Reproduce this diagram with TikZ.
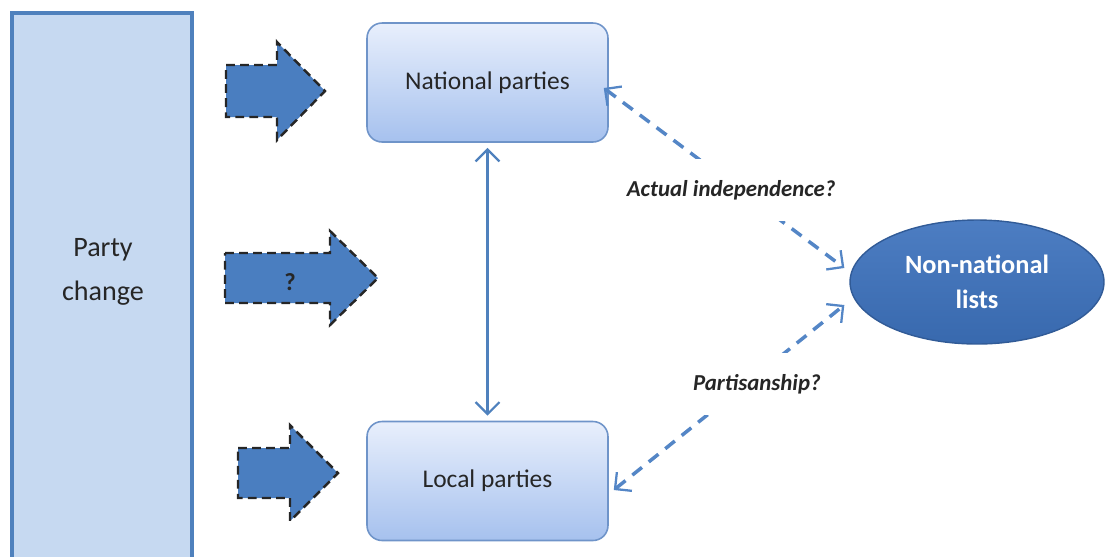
\documentclass[tikz,border=0pt]{standalone}
\usepackage{fontspec}
\setmainfont{Carlito}
\usetikzlibrary{arrows.meta,shapes.geometric}
\definecolor{boxline}{HTML}{4F81BD}
\definecolor{boxfill}{HTML}{C6D9F1}
\definecolor{partyline}{HTML}{6F94C9}
\definecolor{partytop}{HTML}{E8EFFC}
\definecolor{partybottom}{HTML}{A6C1EE}
\definecolor{arrowfill}{HTML}{4A7EC0}
\definecolor{listfill}{HTML}{3D72BD}
\definecolor{linkline}{HTML}{5486C6}
\definecolor{darktext}{HTML}{262626}
\tikzset{
  >={Straight Barb[length=2.4mm,width=4.8mm,line width=1.3pt]},
  changebox/.style = {draw=boxline, line width=2pt, fill=boxfill,
                      minimum width=3.6cm, minimum height=11.14cm, inner sep=0},
  partybox/.style = {draw=partyline, line width=0.9pt, rounded corners=0.3cm,
                     top color=partytop, bottom color=partybottom,
                     minimum width=4.82cm, minimum height=2.38cm, text=darktext,
                     font=\fontsize{14.5}{17}\selectfont},
  listnode/.style = {ellipse, draw=listfill!80!black, line width=0.8pt,
                     top color=listfill!92!white, bottom color=listfill!92!black,
                     minimum width=5.08cm, minimum height=2.48cm, align=center,
                     text=white, font=\bfseries\fontsize{15}{20}\selectfont},
  fatarrow/.style = {draw=black!85, dashed, dash pattern=on 5pt off 3pt,
                     line width=1.4pt, fill=arrowfill},
  link/.style = {draw=linkline, dashed, dash pattern=on 7pt off 5pt,
                 line width=2pt, <->},
  linklabel/.style = {fill=white, inner xsep=2pt, inner ysep=12pt, text=darktext,
                      font=\bfseries\itshape\fontsize{13}{15}\selectfont},
}
\begin{document}
\begin{tikzpicture}[x=0.02cm,y=-0.02cm]
\useasboundingbox (0,0) rectangle (1105,556);
% party change column
\node[changebox] (PC) at (102,291.5) {};
\node[align=center, text=darktext, font=\fontsize{16}{25}\selectfont] (PCtext) at (103,272) {Party\\change};
% fat arrows
\path[fatarrow, shift={(226,91)}] (0,-26) -- (51,-26) -- (51,-49) -- (99,0)
     -- (51,49) -- (51,26) -- (0,26) -- cycle;
\path[fatarrow, shift={(225,278)}] (0,-25) -- (105,-25) -- (105,-47) -- (153,0)
     -- (105,47) -- (105,25) -- (0,25) -- cycle;
\node[text=darktext, font=\bfseries\fontsize{14}{16}\selectfont] (Q) at (290,282) {?};
\path[fatarrow, shift={(238,473)}] (0,-25) -- (52,-25) -- (52,-48) -- (100,0)
     -- (52,48) -- (52,25) -- (0,25) -- cycle;
% parties
\node[partybox] (NP) at (487.5,82.5) {National parties};
\node[partybox] (LP) at (487.5,481) {Local parties};
\node[listnode] (NL) at (977,282) {Non-national\\lists};
% connectors
\draw[boxline, line width=1.3pt, <->] ([yshift=-1mm]NP.south) -- ([yshift=1mm]LP.north);
\draw[link] ([xshift=-1mm,yshift=-0.11cm]NP.east) --
      node[linklabel, pos=0.567, xshift=-0.18cm] {Actual independence?}
      ([xshift=-1mm,yshift=0.28cm]NL.west);
\draw[link] ([xshift=1mm,yshift=-0.18cm]LP.east) --
      node[linklabel, pos=0.573, xshift=0.22cm] {Partisanship?}
      ([xshift=-1mm,yshift=-0.46cm]NL.west);
\end{tikzpicture}
\end{document}
